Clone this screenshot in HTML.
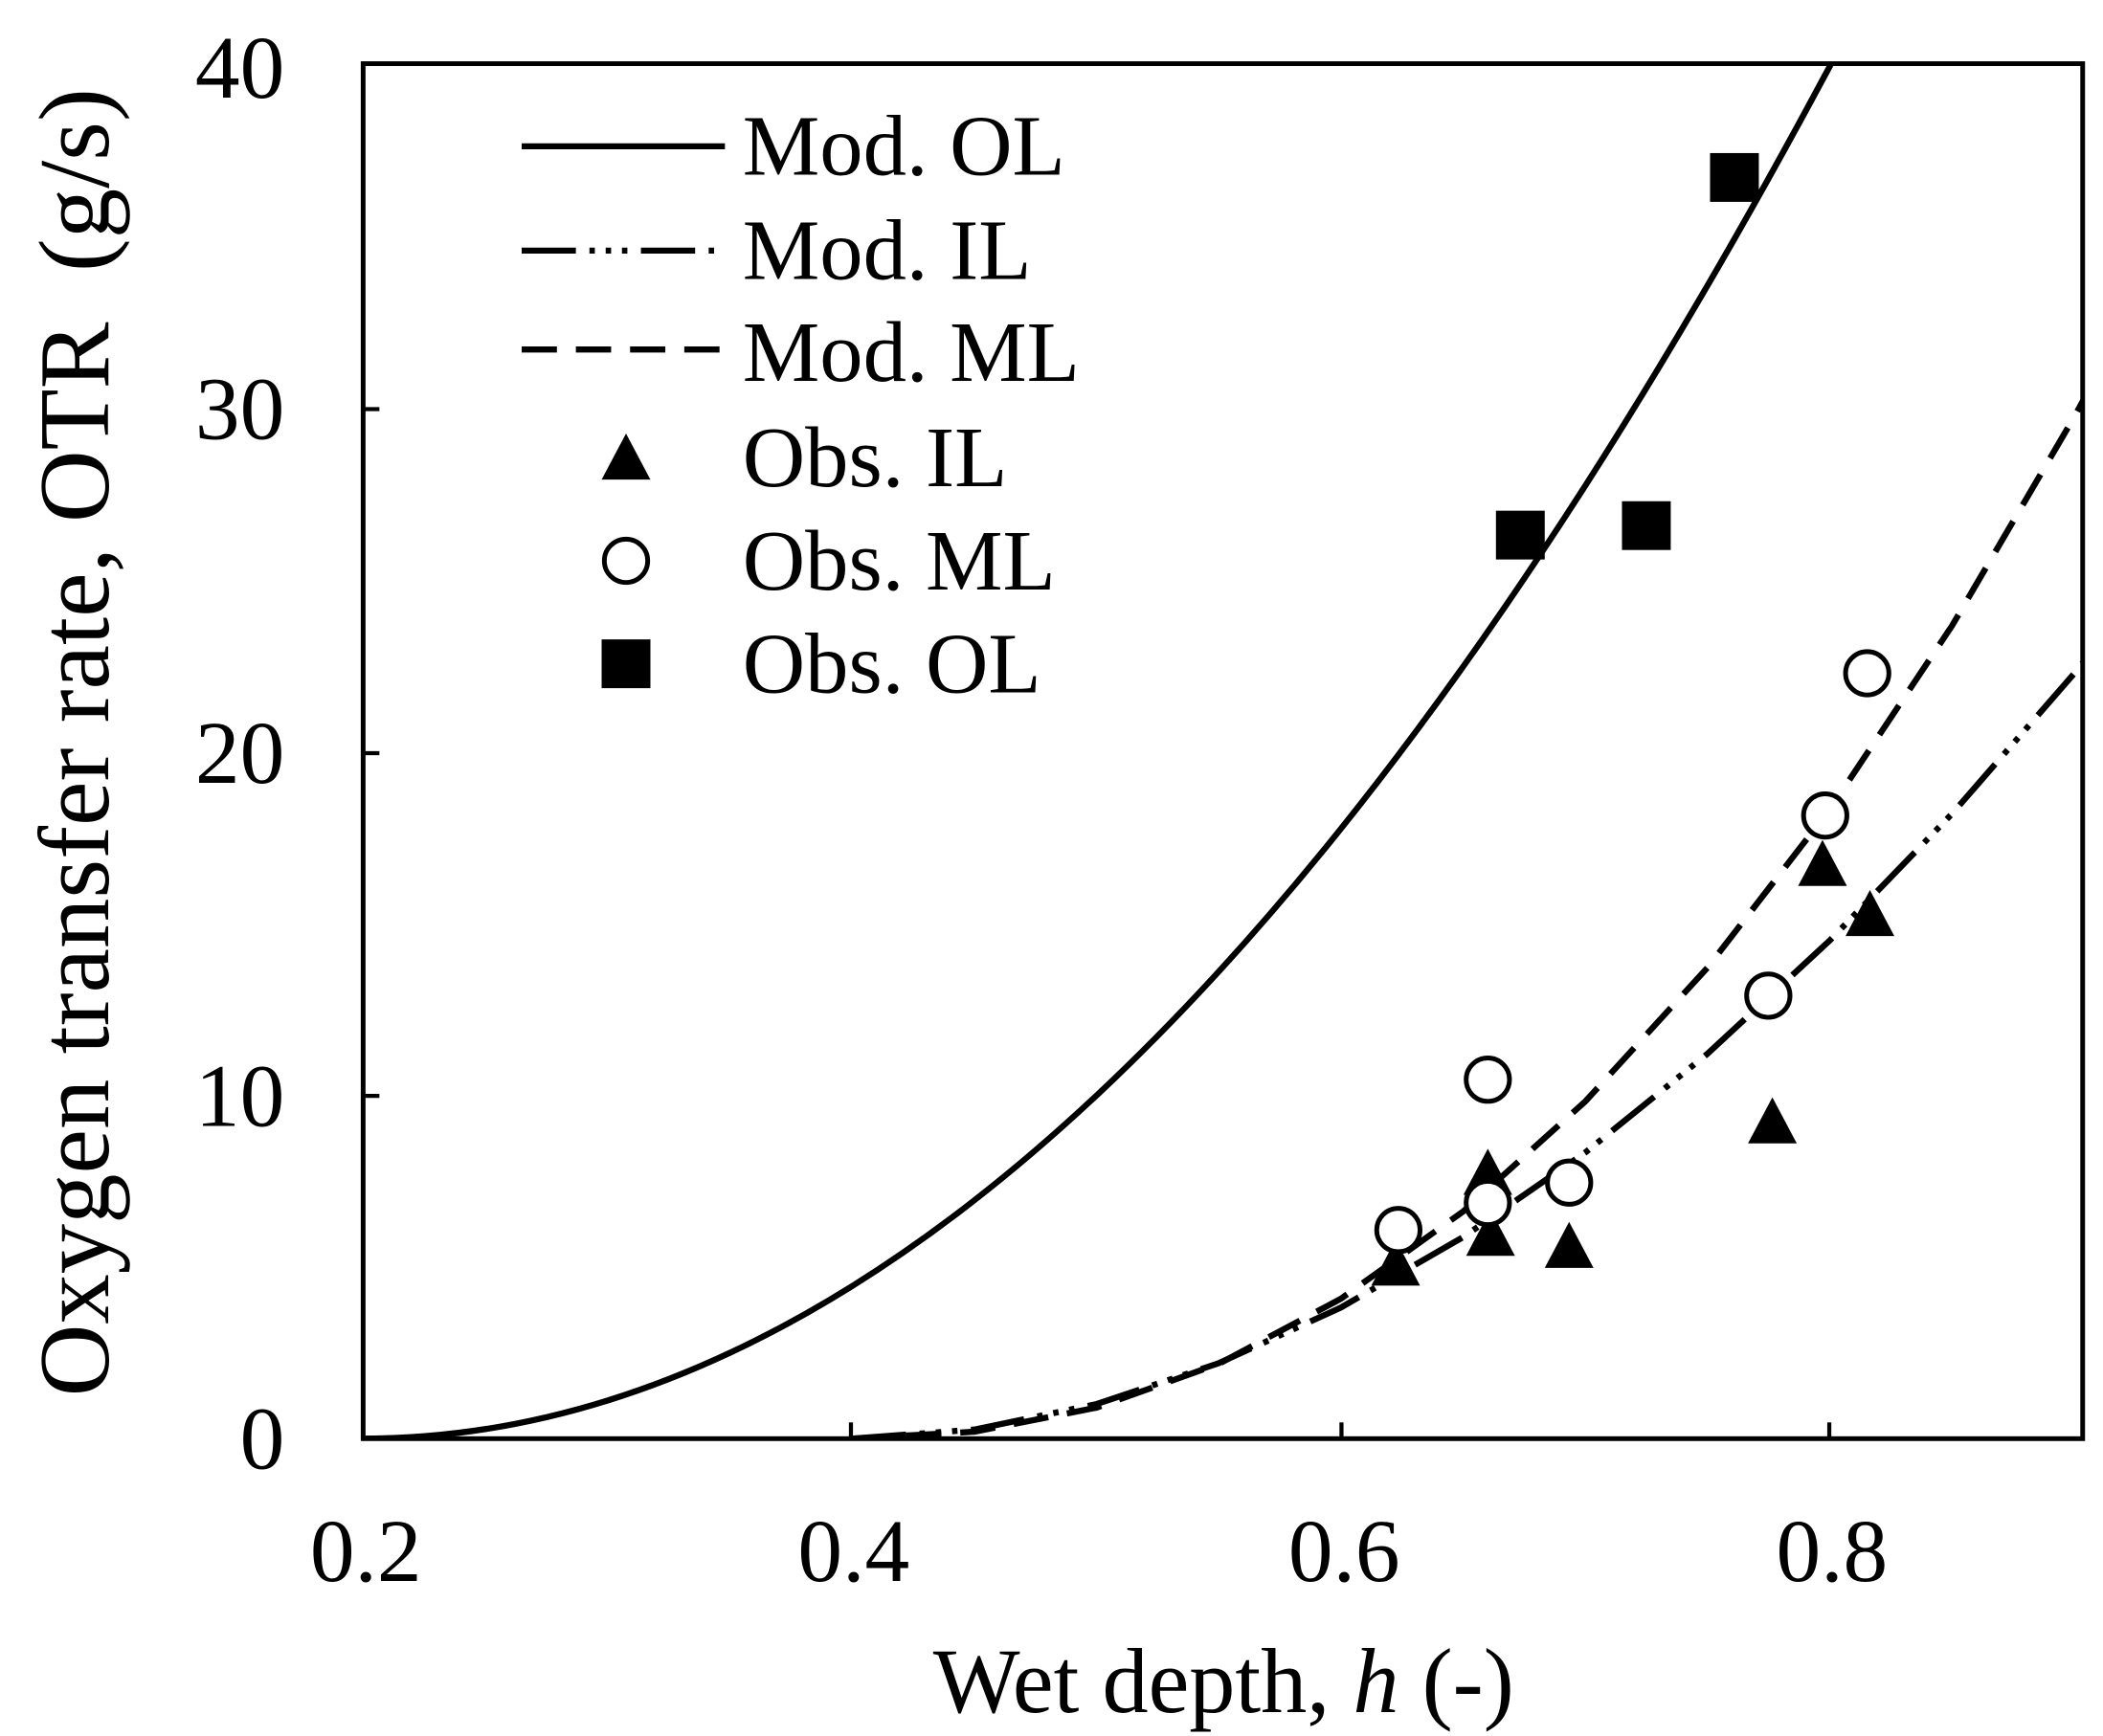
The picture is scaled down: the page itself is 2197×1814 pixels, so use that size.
<!DOCTYPE html>
<html><head><style>html,body{margin:0;padding:0;background:#fff}svg{display:block}</style></head>
<body>
<svg width="2197" height="1814" viewBox="0 0 1552 1281.5" preserveAspectRatio="none" xmlns="http://www.w3.org/2000/svg" font-family="Liberation Serif, serif">
<rect x="0" y="0" width="1552" height="1281.5" fill="#fff"/>
<defs><clipPath id="c"><rect x="268" y="47" width="1269" height="1015"/></clipPath></defs>
<g clip-path="url(#c)" fill="none" stroke="#000" stroke-width="4.5">
<path d="M268,1062 Q899.4,1062 1530.8,-317"/>
<polyline stroke-dasharray="26,14" points="628.8,1062 719,1056.9 809.2,1039.1 899.4,1006.8 989.6,958.7 1079.8,894.3 1170,813.0 1260.2,714.2 1350.4,597.4 1440.6,461.9 1530.8,307.7 1566.9,241.3"/>
<polyline stroke-dasharray="40,10,4,8,4,8,4,10" points="628.8,1062 719,1055.3 809.2,1036.5 899.4,1006.3 989.6,965.2 1079.8,913.2 1170,850.7 1260.2,777.8 1350.4,694.2 1440.6,600.7 1530.8,497.1 1566.9,452.8"/>
</g>
<rect x="268" y="47" width="1269" height="1015" fill="none" stroke="#000" stroke-width="3.5"/>
<g stroke="#000" stroke-width="3">
<line x1="628" y1="1062" x2="628" y2="1050"/><line x1="990" y1="1062" x2="990" y2="1050"/><line x1="1350" y1="1062" x2="1350" y2="1050"/>
<line x1="268" y1="809" x2="280" y2="809"/><line x1="268" y1="556" x2="280" y2="556"/><line x1="268" y1="302" x2="280" y2="302"/>
</g>
<g font-size="66" text-anchor="end">
<text x="210" y="1084">0</text><text x="210" y="831">10</text><text x="210" y="578">20</text><text x="210" y="324">30</text><text x="210" y="72">40</text>
</g>
<g font-size="66" text-anchor="middle">
<text x="270" y="1167">0.2</text><text x="630" y="1167">0.4</text><text x="992" y="1167">0.6</text><text x="1352" y="1167">0.8</text>
</g>
<text x="903" y="1264" font-size="68" text-anchor="middle">Wet depth, <tspan font-style="italic">h</tspan> (-)</text>
<text transform="translate(80,548) rotate(-90)" font-size="74" text-anchor="middle" xml:space="preserve">Oxygen transfer rate, OTR  (g/s)</text>
<g stroke="#000" stroke-width="4.5" fill="none">
<line x1="385" y1="108" x2="535" y2="108"/>
<line x1="385" y1="185" x2="535" y2="185" stroke-dasharray="40,10,4,8,4,8,4,10"/>
<line x1="385" y1="258" x2="535" y2="258" stroke-dasharray="26,14"/>
</g>
<g font-size="64">
<text x="548" y="129">Mod. OL</text><text x="548" y="206">Mod. IL</text><text x="548" y="281">Mod. ML</text>
<text x="548" y="359">Obs. IL</text><text x="548" y="435">Obs. ML</text><text x="548" y="511">Obs. OL</text>
</g>
<g fill="#000">
<rect x="1104" y="377" width="36" height="36"/><rect x="1197" y="370" width="36" height="36"/><rect x="1262" y="113" width="36" height="36"/><rect x="444" y="472" width="36" height="36"/>
<polygon points="1030,915 1012,949 1048,949"/>
<polygon points="1098,848 1080,882 1116,882"/>
<polygon points="1100,893 1082,927 1118,927"/>
<polygon points="1158,902 1140,936 1176,936"/>
<polygon points="1308,810 1290,844 1326,844"/>
<polygon points="1345,620 1327,654 1363,654"/>
<polygon points="1380,657 1362,691 1398,691"/>
<polygon points="462,320 444,354 480,354"/>
</g>
<g fill="#fff" stroke="#000" stroke-width="3.5">
<circle cx="1032" cy="908" r="16"/><circle cx="1098" cy="797" r="16"/><circle cx="1098" cy="888" r="16"/><circle cx="1158" cy="873" r="16"/>
<circle cx="1305" cy="735" r="16"/><circle cx="1347" cy="602" r="16"/><circle cx="1378" cy="497" r="16"/><circle cx="462" cy="414" r="16"/>
</g>
</svg>
</body></html>
